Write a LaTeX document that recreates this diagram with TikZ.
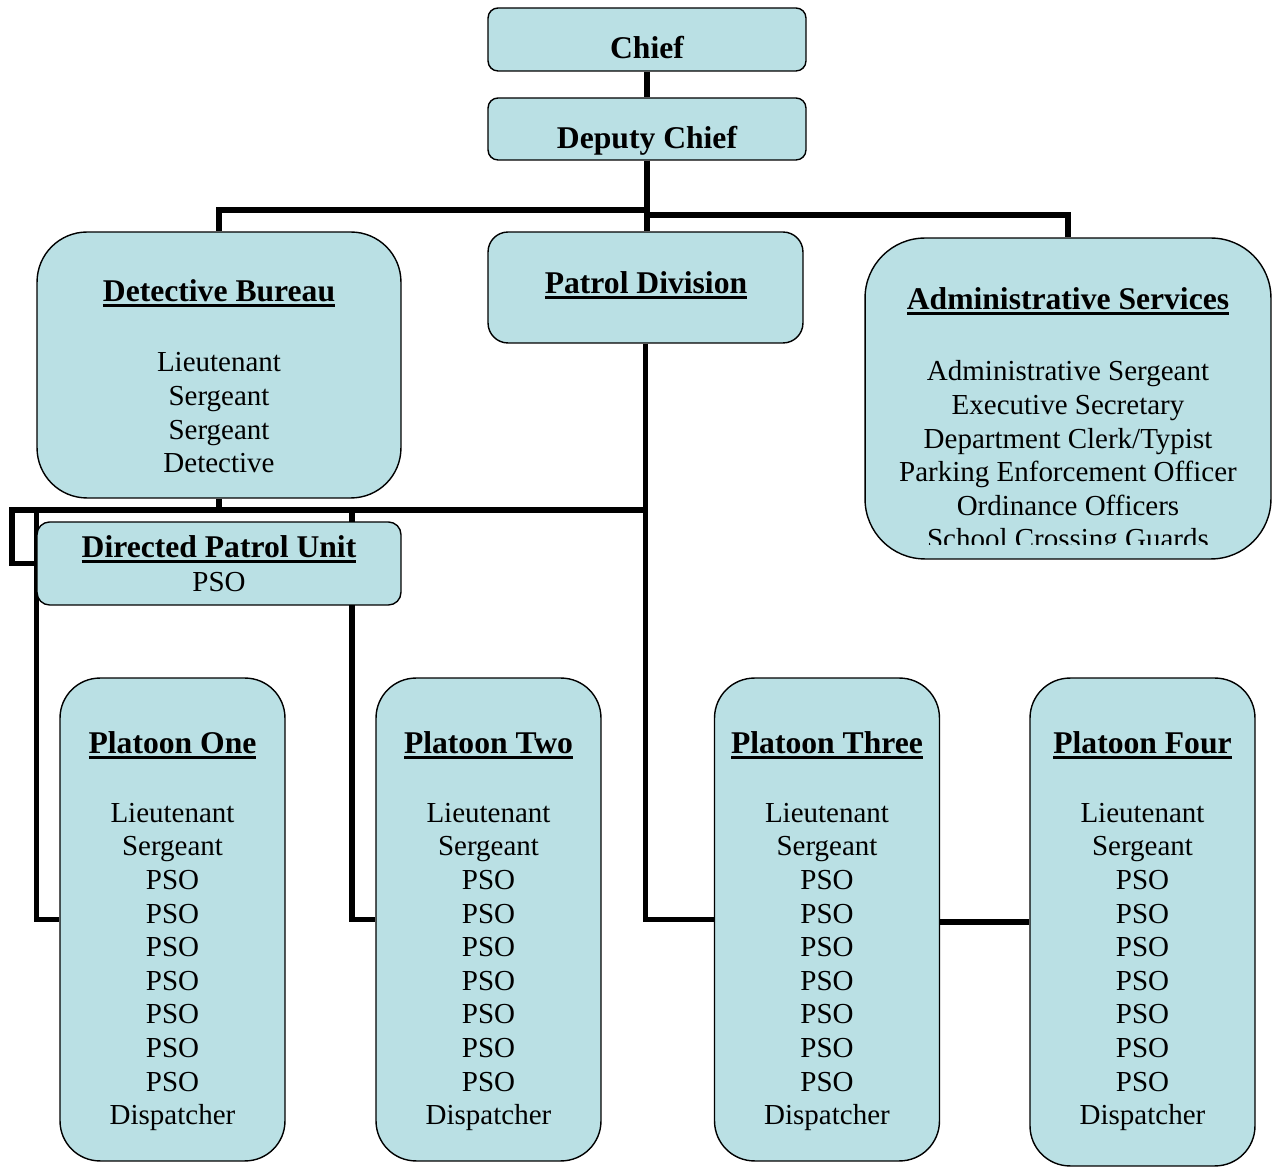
\documentclass[tikz,border=0pt]{standalone}
\usepackage{fontspec}
\setmainfont{Liberation Serif}
\usetikzlibrary{backgrounds}
\definecolor{boxfill}{RGB}{186,224,228}
\newcommand\ulbold[1]{{\fontsize{18}{20}\selectfont\bfseries\vtop{\hbox{#1}\kern1.6pt\hrule height 1.4pt}}}
\tikzset{
  unitbox/.style={draw=black, line width=0.8pt, fill=boxfill, rounded corners=#1, inner sep=0pt},
  txt/.style={font=\fontsize{16.5}{19.15}\selectfont, align=center, inner sep=0pt, anchor=north},
  link/.style={line width=3.2pt}
}

\begin{document}
\begin{tikzpicture}[x=0.02cm, y=-0.02cm]
  \useasboundingbox (0,0) rectangle (1272,1168);

  % top of the chart
  \node[unitbox=0.2cm, minimum width=6.36cm, minimum height=1.26cm] (chief) at (647,39.5) {};
  \node[unitbox=0.2cm, minimum width=6.36cm, minimum height=1.24cm] (deputy) at (647,129) {};
  \node[txt, font=\fontsize{18}{20}\selectfont\bfseries] (chiefname) at (647,35.5) {Chief};
  \node[txt, font=\fontsize{18}{20}\selectfont\bfseries] (deputyname) at (647,125.5) {Deputy Chief};

  % divisions
  \node[unitbox=1cm, minimum width=7.28cm, minimum height=5.32cm] (detective) at (219,365) {};
  \node[unitbox=0.4cm, minimum width=6.3cm, minimum height=2.22cm] (patrol) at (645.5,287.5) {};
  \node[unitbox=1.2cm, minimum width=8.12cm, minimum height=6.42cm] (admin) at (1068,398.5) {};
  \node[unitbox=0.25cm, minimum width=7.28cm, minimum height=1.66cm] (dpu) at (219,563.5) {};

  \node[txt] (detectivetext) at (219,279) {\ulbold{Detective Bureau}\\[21pt]
    Lieutenant\\Sergeant\\Sergeant\\Detective};
  \node[txt] (patroltext) at (646,271) {\ulbold{Patrol Division}};
  \begin{scope}
    \clip (865,238) rectangle (1271,545);
    \node[txt] (admintext) at (1068,287) {\ulbold{Administrative Services}\\[21.5pt]
      Administrative Sergeant\\Executive Secretary\\Department Clerk/Typist\\
      Parking Enforcement Officer\\Ordinance Officers\\School Crossing Guards};
  \end{scope}
  \node[txt] (dputext) at (219,535) {\ulbold{Directed Patrol Unit}\\[0.5pt] PSO};

  % platoons
  \node[unitbox=0.8cm, minimum width=4.5cm, minimum height=9.66cm] (p1) at (172.5,919.5) {};
  \node[unitbox=0.8cm, minimum width=4.5cm, minimum height=9.66cm] (p2) at (488.5,919.5) {};
  \node[unitbox=0.8cm, minimum width=4.5cm, minimum height=9.66cm] (p3) at (827,919.5) {};
  \node[unitbox=0.8cm, minimum width=4.5cm, minimum height=9.76cm] (p4) at (1142.5,922) {};

  \foreach \nm/\px/\ttl in {p1/172.5/Platoon One, p2/488.5/Platoon Two,
                            p3/827/Platoon Three, p4/1142.5/Platoon Four}
    \node[txt] (\nm text) at (\px,731) {\ulbold{\ttl}\\[20pt]
      Lieutenant\\Sergeant\\PSO\\PSO\\PSO\\PSO\\PSO\\PSO\\PSO\\Dispatcher};

  % connectors, behind the boxes
  \coordinate (splitL) at (647,210);
  \coordinate (splitR) at (647,215);
  \coordinate (busL) at (12,510);
  \coordinate (drop2) at (352,510);
  \begin{scope}[on background layer]
    \draw[link] (chief) -- (deputy);
    \draw[link] (deputy.south) -- (splitL) -| (detective.north);
    \draw[link] (deputy.south) -- (deputy.south |- patrol.north);
    \draw[link] (splitR) -| (admin.north);
    \draw[link] (patrol.south) |- (p3.west);
    \draw[link] (patrol.south |- busL) -- (busL) |- (dpu.west);
    \draw[link] (detective.south) -- (detective.south |- busL);
    \draw[link] (dpu.west |- busL) |- (p1.west);
    \draw[link] (drop2) |- (p2.west);
    \draw[link] (p4.west -| p3.east) -- (p4.west);
  \end{scope}
\end{tikzpicture}
\end{document}
